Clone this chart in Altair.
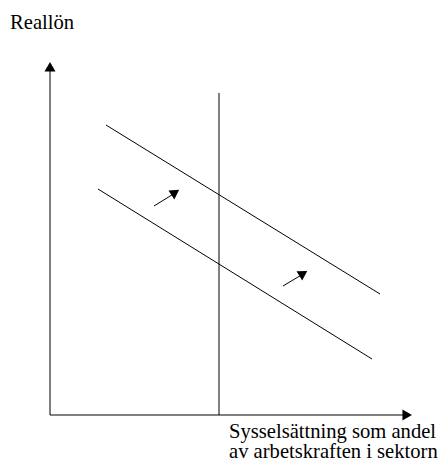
import altair as alt
import pandas as pd

# Schematic coordinates (origin = axes corner)
seg_names = ["y_axis", "x_axis", "vertical", "upper", "lower", "arrow1", "arrow2"]
seg_x = [0, 0, 169, 56, 48, 104, 233]
seg_y = [0, 0, 0, 290, 226, 209, 129]
seg_x2 = [0, 356, 169, 330, 322, 125, 253]
seg_y2 = [346, 0, 322, 121, 56, 222, 141]

head_x = [0, 357.2, 125.3, 253.3]
head_y = [348.2, 0, 222.6, 141.6]
head_shape = ["triangle-up", "triangle-right", "triangle-up", "triangle-up"]
head_angle = [0, 0, 57, 58]
head_size = [121, 121, 115, 115]

label_text = ["Reallön", "Sysselsättning som andel", "av arbetskraften i sektorn"]
label_x = [-40, 179, 179]
label_y = [386, -23, -43]

segs = pd.DataFrame({"name": seg_names, "x": seg_x, "y": seg_y, "x2": seg_x2, "y2": seg_y2})
heads = pd.DataFrame({"x": head_x, "y": head_y, "shape": head_shape,
                      "angle": head_angle, "size": head_size})
labels = pd.DataFrame({"text": label_text, "x": label_x, "y": label_y})

xs = alt.Scale(domain=[-42, 390], nice=False, zero=False)
ys = alt.Scale(domain=[-47, 407], nice=False, zero=False)

rules = alt.Chart(segs).mark_rule(color="black", strokeWidth=1).encode(
    x=alt.X("x:Q", scale=xs, axis=None),
    y=alt.Y("y:Q", scale=ys, axis=None),
    x2="x2:Q",
    y2="y2:Q",
)

points = alt.Chart(heads).mark_point(filled=True, color="black", opacity=1, strokeWidth=0).encode(
    x=alt.X("x:Q", scale=xs, axis=None),
    y=alt.Y("y:Q", scale=ys, axis=None),
    shape=alt.Shape("shape:N", scale=None),
    angle=alt.Angle("angle:Q", scale=None),
    size=alt.Size("size:Q", scale=None),
)

texts = alt.Chart(labels).mark_text(
    align="left", baseline="alphabetic", font="Liberation Serif", fontSize=20.6, color="black"
).encode(
    x=alt.X("x:Q", scale=xs, axis=None),
    y=alt.Y("y:Q", scale=ys, axis=None),
    text="text:N",
)

chart = alt.layer(rules, points, texts).properties(
    width=432, height=454, padding=0, autosize=alt.AutoSizeParams(type="none")
).configure_view(stroke=None)

chart.save("out.html", embed_options={"renderer": "svg", "actions": False})
